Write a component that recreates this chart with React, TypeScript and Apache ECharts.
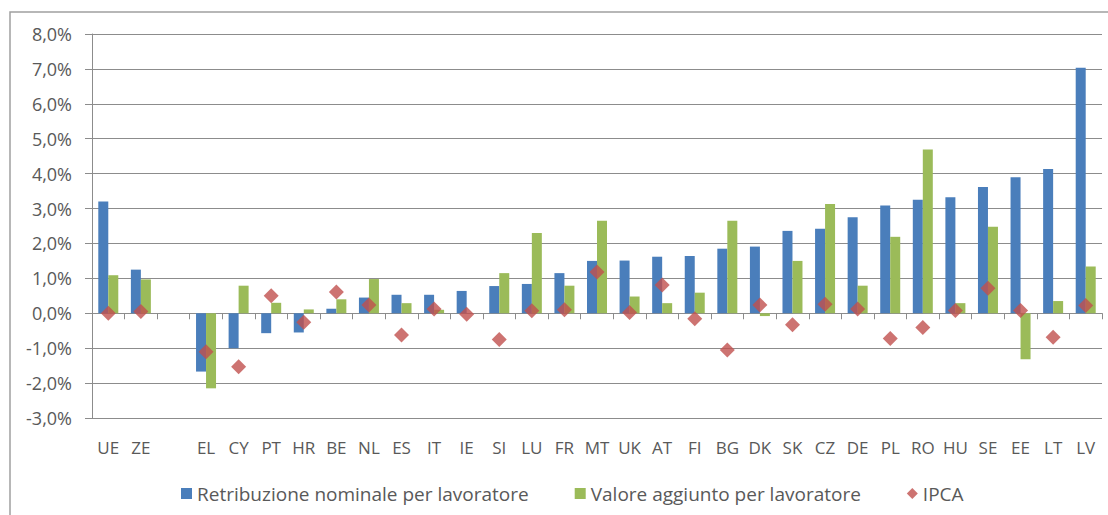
import React, { useEffect, useRef } from "react";
import * as echarts from "echarts";

const categories = ["UE","ZE","","EL","CY","PT","HR","BE","NL","ES","IT","IE","SI","LU","FR","MT","UK","AT","FI","BG","DK","SK","CZ","DE","PL","RO","HU","SE","EE","LT","LV"];

const retribuzione = [3.2,1.25,null,-1.67,-1.0,-0.57,-0.55,0.13,0.45,0.53,0.53,0.64,0.78,0.84,1.15,1.5,1.51,1.62,1.64,1.85,1.91,2.36,2.42,2.75,3.09,3.25,3.32,3.62,3.9,4.13,7.03];

const valoreAggiunto = [1.09,0.97,null,-2.15,0.79,0.3,0.11,0.4,0.98,0.29,0.1,0.0,1.15,2.3,0.79,2.65,0.48,0.29,0.59,2.65,-0.08,1.5,3.13,0.79,2.19,4.69,0.29,2.48,-1.32,0.35,1.34];

const ipca = [0.0,0.05,null,-1.1,-1.53,0.5,-0.26,0.61,0.24,-0.62,0.12,-0.03,-0.75,0.07,0.1,1.18,0.02,0.81,-0.16,-1.05,0.24,-0.33,0.26,0.12,-0.72,-0.41,0.08,0.72,0.08,-0.69,0.22];

const seriesNames = ["Retribuzione nominale per lavoratore", "Valore aggiunto per lavoratore", "IPCA"];

const FONT = "'Open Sans', sans-serif";
const TEXT = "#595959";
const GRID = "#8c8c8c";

export default function App() {
  const ref = useRef<HTMLDivElement>(null);
  useEffect(() => {
    const chart = echarts.init(ref.current!, null, { renderer: "svg" });
    chart.setOption({
      animation: false,
      textStyle: { fontFamily: FONT },
      graphic: [
        {
          type: "rect",
          shape: { x: 10, y: 12, width: 1300, height: 700 },
          style: { fill: "none", stroke: "#a0a0a0", lineWidth: 1.5 },
          silent: true,
        },
      ],
      grid: { left: 92, right: 6, top: 34, bottom: 97, containLabel: false },
      legend: {
        left: 176,
        top: 479,
        itemWidth: 11,
        itemHeight: 11,
        itemGap: 46,
        textStyle: { fontFamily: FONT, fontSize: 19, color: TEXT },
        data: [
          { name: seriesNames[0], icon: "rect" },
          { name: seriesNames[1], icon: "rect" },
          { name: seriesNames[2], icon: "diamond" },
        ],
      },
      xAxis: [
        {
          type: "category",
          data: categories,
          boundaryGap: true,
          axisLine: { show: true, onZero: true, lineStyle: { color: GRID, width: 1 } },
          axisTick: { show: true, length: 6, interval: 0, lineStyle: { color: GRID } },
          axisLabel: { show: false },
          splitLine: { show: false },
        },
        {
          type: "category",
          data: categories,
          position: "bottom",
          boundaryGap: true,
          axisLine: { show: false, onZero: false },
          axisTick: { show: false },
          axisLabel: { show: true, interval: 0, margin: 21, fontSize: 17, color: TEXT, fontFamily: FONT },
          splitLine: { show: false },
        },
      ],
      yAxis: {
        type: "value",
        min: -3,
        max: 8,
        interval: 1,
        axisLine: { show: true, lineStyle: { color: GRID } },
        axisTick: { show: true, length: 7, lineStyle: { color: GRID } },
        axisLabel: {
          margin: 20,
          fontSize: 18,
          color: TEXT,
          fontFamily: FONT,
          formatter: (v: number) => v.toFixed(1).replace(".", ",") + "%",
        },
        splitLine: { show: true, lineStyle: { color: GRID, width: 1.2 } },
      },
      series: [
        {
          name: seriesNames[0],
          type: "bar",
          xAxisIndex: 0,
          data: retribuzione,
          barWidth: 10,
          barGap: "0%",
          itemStyle: { color: "#4a7ebb" },
        },
        {
          name: seriesNames[1],
          type: "bar",
          xAxisIndex: 0,
          data: valoreAggiunto,
          barWidth: 10,
          barGap: "0%",
          itemStyle: { color: "#9bbb59" },
        },
        {
          name: seriesNames[2],
          type: "scatter",
          xAxisIndex: 0,
          data: ipca,
          symbol: "diamond",
          symbolSize: 15,
          z: 5,
          itemStyle: { color: "#c0504d" },
        },
      ],
    });
    return () => chart.dispose();
  }, []);
  return (
    <div
      ref={ref}
      style={{ position: "absolute", left: 0, top: 0, width: 1108, height: 515, background: "#fff" }}
    />
  );
}
